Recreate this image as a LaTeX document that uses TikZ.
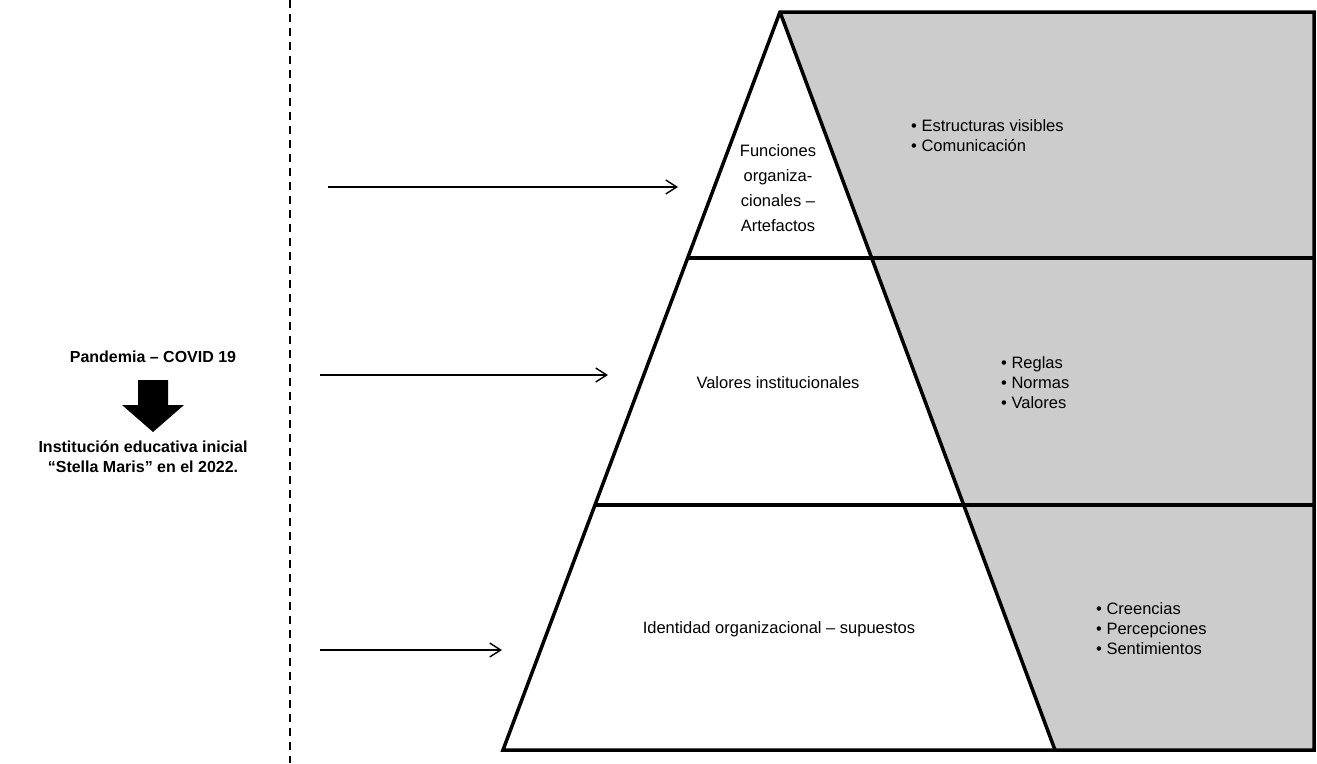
\documentclass[tikz,border=0pt]{standalone}
\usepackage{fontspec}
\setmainfont{Liberation Sans}
\usetikzlibrary{arrows.meta}
\definecolor{layergray}{HTML}{CCCCCC}
\tikzset{
  frame/.style={line width=3.5pt, line join=miter},
  feed/.style={line width=1.4pt, -{Straight Barb[length=11pt,width=14pt]}},
  label/.style={font=\fontsize{16.5}{25}\selectfont, align=center, inner sep=0pt},
  bullets/.style={font=\fontsize{16.5}{20}\selectfont, align=left, inner sep=0pt, anchor=north west},
  bold/.style={font=\fontsize{16}{20}\selectfont\bfseries, align=center, inner sep=0pt}
}
\begin{document}
\begin{tikzpicture}[x=1pt,y=-1pt]
\useasboundingbox (0,0) rectangle (1317,763);
% dashed separator
\draw[line width=1.6pt, dash pattern=on 8pt off 6pt] (290,0) -- (290,763);
% gray region
\fill[layergray] (780,12) -- (1314,12) -- (1314,750) -- (1055,750) -- cycle;
% pyramid and frame
\coordinate (apex) at (780,12);
\coordinate (bl) at (503,750);
\coordinate (br) at (1055,750);
\draw[frame] (1314,12) -- (apex) -- (bl) -- (1314,750) -- cycle;
\draw[frame] (apex) -- (br);
\draw[frame] (688,258) -- (1314,258);
\draw[frame] (596,505) -- (1314,505);
% labels in pyramid
\node[label] (l1) at (778,188) {Funciones\\organiza-\\cionales –\\Artefactos};
\node[label] (l2) at (778,383) {Valores institucionales};
\node[label] (l3) at (779,629) {Identidad organizacional – supuestos};
% bullet lists
\node[bullets] (b1) at (911,119) {• Estructuras visibles\\• Comunicación};
\node[bullets] (b2) at (1001,356) {• Reglas\\• Normas\\• Valores};
\node[bullets] (b3) at (1096,602) {• Creencias\\• Percepciones\\• Sentimientos};
% feed arrows
\coordinate (s1) at (328,187); \coordinate (e1) at (678,187);
\coordinate (s2) at (320,375); \coordinate (e2) at (608,375);
\coordinate (s3) at (320,650); \coordinate (e3) at (502,650);
\draw[feed] (s1) -- (e1);
\draw[feed] (s2) -- (e2);
\draw[feed] (s3) -- (e3);
% left side
\node[bold] (pan) at (153,357) {Pandemia – COVID 19};
\node[bold] (inst) at (143,457) {Institución educativa inicial\\“Stella Maris” en el 2022.};
\fill (138,380) -- (168,380) -- (168,405) -- (184,405) -- (153,432) -- (122,405) -- (138,405) -- cycle;
\end{tikzpicture}
\end{document}
